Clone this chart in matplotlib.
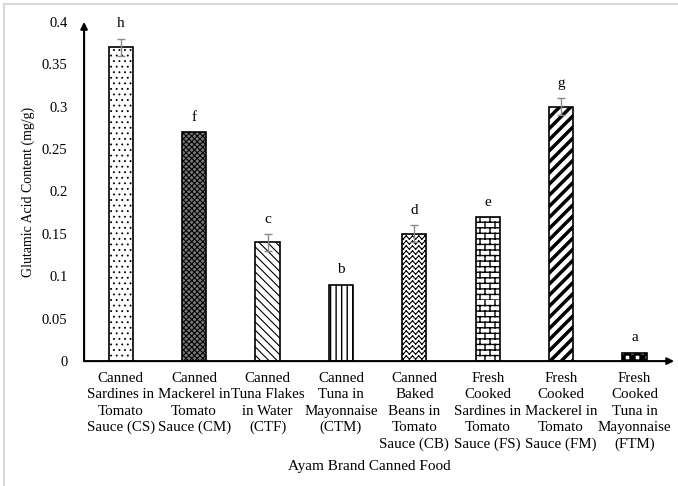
import matplotlib
matplotlib.use("Agg")
import numpy as np
import matplotlib.pyplot as plt
from matplotlib.lines import Line2D
from matplotlib import hatch as mhatch
from matplotlib.path import Path

plt.rcParams['font.family'] = ['Liberation Serif', 'DejaVu Serif']

categories = ["Canned\nSardines in\nTomato\nSauce (CS)",
              "Canned\nMackerel in\nTomato\nSauce (CM)",
              "Canned\nTuna Flakes\nin Water\n(CTF)",
              "Canned\nTuna in\nMayonnaise\n(CTM)",
              "Canned\nBaked\nBeans in\nTomato\nSauce (CB)",
              "Fresh\nCooked\nSardines in\nTomato\nSauce (FS)",
              "Fresh\nCooked\nMackerel in\nTomato\nSauce (FM)",
              "Fresh\nCooked\nTuna in\nMayonnaise\n(FTM)"]
values = [0.37, 0.27, 0.14, 0.09, 0.15, 0.17, 0.30, 0.01]
errors = [0.01, 0.0, 0.01, 0.0, 0.01, 0.0, 0.01, 0.0]
letters = ["h", "f", "c", "b", "d", "e", "g", "a"]
yticks = [0, 0.05, 0.1, 0.15, 0.2, 0.25, 0.3, 0.35, 0.4]
ytick_labels = ["0", "0.05", "0.1", "0.15", "0.2", "0.25", "0.3", "0.35", "0.4"]


# ---- custom hatch patterns: '*' -> zigzag, 'o' -> bricks, 'O' -> checker ----
class _SegHatch(mhatch.HatchPatternBase):
    char = ''

    def __init__(self, hatch, density):
        n = hatch.count(self.char)
        self.segs = self.make_segs() if n else []
        self.num_vertices = 2 * len(self.segs)

    def set_vertices_and_codes(self, vertices, codes):
        for k, (a, b) in enumerate(self.segs):
            vertices[2 * k] = a
            vertices[2 * k + 1] = b
            codes[2 * k] = Path.MOVETO
            codes[2 * k + 1] = Path.LINETO


class ZigZag(_SegHatch):
    char = '*'

    def make_segs(self):
        R, T, a = 20, 16, 0.017
        segs = []
        for i in range(R):
            y0 = (i + 0.5) / R
            for k in range(T):
                p0 = (k / T, y0 + a)
                p1 = ((k + 0.5) / T, y0 - a)
                p2 = ((k + 1) / T, y0 + a)
                segs.append((p0, p1))
                segs.append((p1, p2))
        return segs


class Bricks(_SegHatch):
    char = 'o'

    def make_segs(self):
        R, B = 18, 10
        segs = []
        for i in range(R):
            y = i / R
            segs.append(((0.0, y), (1.0, y)))
            off = 0.5 * (i % 2)
            for j in range(B):
                x = (j + off) / B
                segs.append(((x, y), (x, (i + 1) / R)))
        return segs


class Checker(mhatch.HatchPatternBase):
    def __init__(self, hatch, density):
        n = hatch.count('O')
        self.N = 20
        self.cells = ([(i, j) for i in range(self.N) for j in range(self.N)
                       if (i + j) % 2 == 0] if n else [])
        self.num_vertices = 5 * len(self.cells)

    def set_vertices_and_codes(self, vertices, codes):
        s = 1.0 / self.N
        for k, (i, j) in enumerate(self.cells):
            x, y = j * s, i * s
            vertices[5 * k:5 * k + 5] = [(x, y), (x + s, y), (x + s, y + s),
                                         (x, y + s), (x, y)]
            codes[5 * k:5 * k + 5] = [Path.MOVETO, Path.LINETO, Path.LINETO,
                                      Path.LINETO, Path.CLOSEPOLY]


mhatch._hatch_types = [mhatch.HorizontalHatch, mhatch.VerticalHatch,
                       mhatch.NorthEastHatch, mhatch.SouthEastHatch,
                       mhatch.SmallFilledCircles, ZigZag, Bricks, Checker]

hatches = ['...', 'xxxxxx', '\\\\\\\\', '|||', '*', 'o', '///', 'O']
face = ['white', '#7a7a7a', 'white', 'white', 'white', 'white', 'white', 'white']
hlw = [0.6, 0.8, 0.8, 1.0, 0.8, 1.0, 2.5, 1.0]

fig = plt.figure(figsize=(6.78, 4.86), dpi=100)
ax = fig.add_axes([0.124, 0.257, 0.866, 0.698])

x = list(range(len(values)))
for i in x:
    plt.rcParams['hatch.linewidth'] = hlw[i]
    b = ax.bar(i, values[i], width=0.33, color=face[i], edgecolor='black',
               linewidth=1.2, hatch=hatches[i], zorder=2)
    for p in b:
        if hasattr(p, 'set_hatch_linewidth'):
            p.set_hatch_linewidth(hlw[i])
plt.rcParams['hatch.linewidth'] = 1.0

for i in x:
    if errors[i] > 0:
        ax.errorbar(i, values[i], yerr=errors[i], fmt='none', ecolor='#8a8a8a',
                    elinewidth=1.0, capsize=3, capthick=1.0, zorder=3)
    ax.annotate(letters[i], (i, values[i] + errors[i]), xytext=(0, 6),
                textcoords='offset points', ha='center', va='bottom', fontsize=11)

ax.set_xlim(-0.5, 7.5)
ax.set_ylim(0, 0.4)
ax.set_yticks(yticks)
ax.set_yticklabels(ytick_labels, fontsize=10.5)
ax.set_xticks(x)
ax.set_xticklabels(categories, fontsize=10.8, linespacing=1.32, va='top')
ax.tick_params(axis='both', length=0)
ax.tick_params(axis='y', pad=12)
ax.tick_params(axis='x', pad=8)
for s in ax.spines.values():
    s.set_visible(False)

ax.annotate('', xy=(0, 1.0), xytext=(0, 0), xycoords='axes fraction',
            arrowprops=dict(arrowstyle='-|>', color='black', lw=1.5,
                            mutation_scale=10, shrinkA=0, shrinkB=0))
ax.annotate('', xy=(1.005, 0), xytext=(0, 0), xycoords='axes fraction',
            arrowprops=dict(arrowstyle='-|>', color='black', lw=1.5,
                            mutation_scale=10, shrinkA=0, shrinkB=0))

ax.set_ylabel("Glutamic Acid Content (mg/g)", fontsize=10, labelpad=5)
fig.text(0.545, 0.04, "Ayam Brand Canned Food", ha='center', va='center', fontsize=11)

fig.add_artist(Line2D([0.006, 0.006], [0.0, 0.992], transform=fig.transFigure,
                      color='#d8d8d8', lw=1.5))
fig.add_artist(Line2D([0.006, 1.0], [0.992, 0.992], transform=fig.transFigure,
                      color='#d8d8d8', lw=1.5))

fig.savefig("out.png", dpi=100)
